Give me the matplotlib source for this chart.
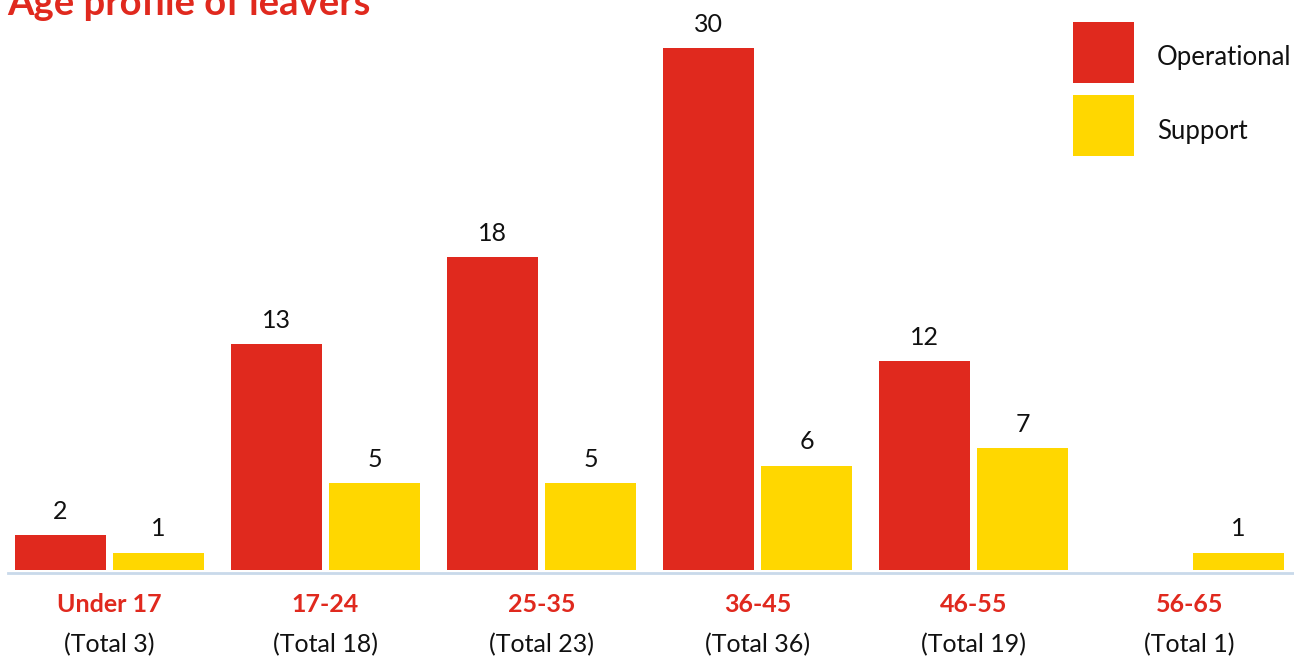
import matplotlib
matplotlib.use("Agg")
import matplotlib.pyplot as plt
from matplotlib.patches import Rectangle
import numpy as np

# data
categories = ["Under 17", "17-24", "25-35", "36-45", "46-55", "56-65"]
operational = [2, 13, 18, 30, 12, 0]
support = [1, 5, 5, 6, 7, 1]
totals = [3, 18, 23, 36, 19, 1]
series_names = ["Operational", "Support"]

RED = "#E0291E"
YELLOW = "#FFD700"
FONT = "Lato"

plt.rcParams["font.family"] = [FONT, "DejaVu Sans"]

W, H = 1294, 657
fig = plt.figure(figsize=(W / 100, H / 100), dpi=100)

# axes: baseline at pixel row 570, 17.4 px per unit
base_px = 570
ax = fig.add_axes([0, (H - base_px) / H, 1, base_px / H])
x = np.arange(len(categories))
step = 216
ax.set_xlim(-109.5 / step, (W - 109.5) / step)
ax.set_ylim(0, base_px / 17.4)

bw = 91 / step
off = 49 / step
bars_op = ax.bar(x - off, operational, bw, color=RED, label=series_names[0])
bars_sup = ax.bar(x + off, support, bw, color=YELLOW, label=series_names[1])

# value labels
for bars, vals in [(bars_op, operational), (bars_sup, support)]:
    for b, v in zip(bars, vals):
        if v == 0:
            continue
        ax.annotate(str(v), (b.get_x() + b.get_width() / 2, v),
                    xytext=(0, 17), textcoords="offset points",
                    ha="center", va="center", fontsize=18, color="#111111")

# category labels and totals
for i, (c, t) in enumerate(zip(categories, totals)):
    ax.text(i, -35 / base_px, c, transform=ax.get_xaxis_transform(),
            ha="center", va="center", fontsize=18, fontweight="bold", color=RED)
    ax.text(i, -75 / base_px, f"(Total {t})", transform=ax.get_xaxis_transform(),
            ha="center", va="center", fontsize=18, color="#111111")

# baseline
ax.plot([8 / W, 1], [-2.5 / base_px, -2.5 / base_px], transform=ax.transAxes,
        color="#C9D9EA", lw=2, clip_on=False)

for s in ax.spines.values():
    s.set_visible(False)
ax.set_xticks([])
ax.set_yticks([])

# legend: big square swatches at the top right
for k, (name, col) in enumerate(zip(series_names, [RED, YELLOW])):
    top = 22 + 73 * k
    fig.add_artist(Rectangle((1073 / W, 1 - (top + 61) / H), 61 / W, 61 / H,
                             transform=fig.transFigure, color=col, lw=0))
    fig.text(1157 / W, 1 - (top + 36) / H, name, ha="left", va="center",
             fontsize=18.5, color="#111111")

# title, cut off at the top like the reference
fig.text(7 / W, 1 - 15 / H, "Age profile of leavers", ha="left", va="baseline",
         fontsize=27.5, fontweight="bold", color=RED)

fig.savefig("out.png", dpi=100)
